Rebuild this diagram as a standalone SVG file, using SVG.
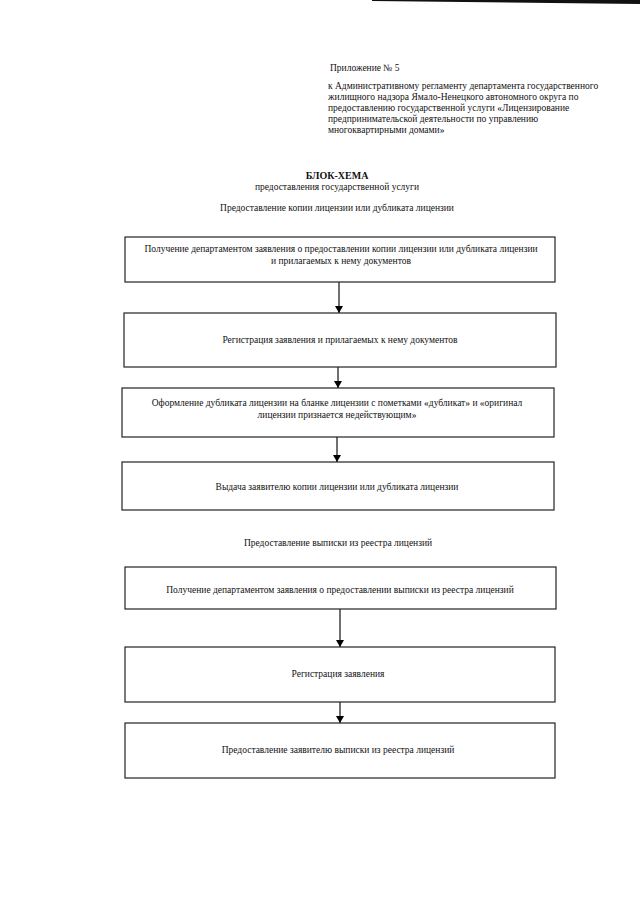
<svg xmlns="http://www.w3.org/2000/svg" width="640" height="905" viewBox="0 0 640 905">
<defs>
<marker id="ah" markerWidth="8" markerHeight="8" refX="7" refY="4" orient="auto" markerUnits="userSpaceOnUse">
<path d="M0,0 L7,4 L0,8 Z" fill="#000"/>
</marker>
<style>
text{font-family:"Liberation Serif","Times New Roman",serif;fill:#111;font-size:9.5px}
.c{text-anchor:middle}
.b{font-weight:bold;font-size:10px}
.box{fill:#fff;stroke:#222;stroke-width:1.2}
.con{stroke:#111;stroke-width:1.2;fill:none}
</style>
</defs>
<rect width="640" height="905" fill="#fff"/>
<polygon points="372,0 640,0 640,4 372,1" fill="#111"/>
<g id="header">
<text x="330" y="71">Приложение № 5</text>
<text x="328" y="89">к Административному регламенту департамента государственного</text>
<text x="328" y="100">жилищного надзора Ямало-Ненецкого автономного округа по</text>
<text x="328" y="111">предоставлению государственной услуги «Лицензирование</text>
<text x="328" y="122">предпринимательской деятельности по управлению</text>
<text x="328" y="133">многоквартирными домами»</text>
</g>
<g id="title">
<text class="c b" x="337" y="179">БЛОК-ХЕМА</text>
<text class="c" x="337" y="190">предоставления государственной услуги</text>
<text class="c" x="337" y="211">Предоставление копии лицензии или дубликата лицензии</text>
<text class="c" x="338" y="546">Предоставление выписки из реестра лицензий</text>
</g>
<g id="connectors">
<line class="con" x1="339" y1="282" x2="339" y2="313" marker-end="url(#ah)"/>
<line class="con" x1="338" y1="367" x2="338" y2="388" marker-end="url(#ah)"/>
<line class="con" x1="337" y1="437" x2="337" y2="462" marker-end="url(#ah)"/>
<line class="con" x1="340" y1="609" x2="340" y2="647" marker-end="url(#ah)"/>
<line class="con" x1="340" y1="702" x2="340" y2="723" marker-end="url(#ah)"/>
</g>
<g id="n1">
<rect class="box" x="125" y="237" width="430" height="45"/>
<text class="c" x="341" y="252" font-size="10">Получение департаментом заявления о предоставлении копии лицензии или дубликата лицензии</text>
<text class="c" x="341" y="264" font-size="10">и прилагаемых к нему документов</text>
</g>
<g id="n2">
<rect class="box" x="124" y="313" width="432" height="54"/>
<text class="c" x="340" y="343">Регистрация заявления и прилагаемых к нему документов</text>
</g>
<g id="n3">
<rect class="box" x="122" y="388" width="432" height="49"/>
<text class="c" x="337" y="406">Оформление дубликата лицензии на бланке лицензии с пометками «дубликат» и «оригинал</text>
<text class="c" x="337" y="418">лицензии признается недействующим»</text>
</g>
<g id="n4">
<rect class="box" x="122" y="462" width="432" height="48"/>
<text class="c" x="337" y="490">Выдача заявителю копии лицензии или дубликата лицензии</text>
</g>
<g id="n5">
<rect class="box" x="125" y="567" width="431" height="42"/>
<text class="c" x="340" y="593">Получение департаментом заявления о предоставлении выписки из реестра лицензий</text>
</g>
<g id="n6">
<rect class="box" x="125" y="647" width="430" height="55"/>
<text class="c" x="338" y="677">Регистрация заявления</text>
</g>
<g id="n7">
<rect class="box" x="125" y="723" width="430" height="55"/>
<text class="c" x="338" y="753">Предоставление заявителю выписки из реестра лицензий</text>
</g>
</svg>
